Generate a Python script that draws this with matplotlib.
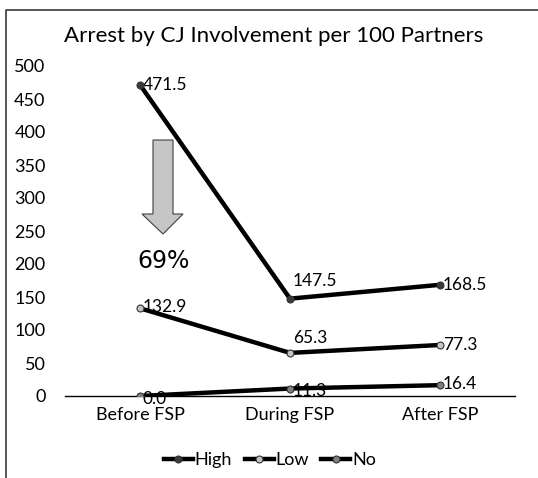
import matplotlib
matplotlib.use("Agg")
import matplotlib.pyplot as plt
from matplotlib.lines import Line2D
from matplotlib.patches import Polygon

plt.rcParams["font.family"] = ["Lato", "DejaVu Sans"]

# chart data
periods = ["Before FSP", "During FSP", "After FSP"]
series_names = ["High", "Low", "No"]
high = [471.5, 147.5, 168.5]
low = [132.9, 65.3, 77.3]
no = [0.0, 11.3, 16.4]
yticks = [0, 50, 100, 150, 200, 250, 300, 350, 400, 450, 500]

marker_colors = ["#3a3a3a", "#c4c4c4", "#7f7f7f"]
# vertical nudge (points) of each value label, per series
label_dy = [[0, 13, 0], [1, 11, 0], [-2, -2, 1]]

fig = plt.figure(figsize=(5.38, 4.78), dpi=100)
ax = fig.add_axes([65 / 538, 1 - 396 / 478, 450 / 538, 330 / 478])

x = list(range(len(periods)))
for vals, name, mc, dys in zip([high, low, no], series_names, marker_colors, label_dy):
    ax.plot(x, vals, color="black", lw=3.2, marker="o", ms=5,
            mfc=mc, mec="#333333", mew=0.8, label=name, solid_capstyle="round",
            zorder=3)
    for xi, v, dy in zip(x, vals, dys):
        ax.annotate(f"{v:.1f}", (xi, v), xytext=(2, dy), textcoords="offset points",
                    ha="left", va="center", fontsize=12.5, zorder=2)

ax.set_xlim(-0.5, 2.5)
ax.set_ylim(0, 500)
ax.set_yticks(yticks)
ax.set_xticks(x)
ax.set_xticklabels(periods)
ax.tick_params(axis="both", length=0, labelsize=13)
ax.tick_params(axis="y", pad=14)
ax.tick_params(axis="x", pad=8)
for side in ["top", "right", "left"]:
    ax.spines[side].set_visible(False)
ax.spines["bottom"].set_linewidth(1.0)
ax.set_facecolor("none")

fig.text(274 / 538, 1 - 36 / 478, "Arrest by CJ Involvement per 100 Partners",
         ha="center", va="center", fontsize=16)

# grey down arrow with the drop percentage
arrow_px = [(153, 140), (173, 140), (173, 214), (183, 214), (163, 234),
            (142, 214), (153, 214)]
arrow = Polygon([(px / 538, 1 - py / 478) for px, py in arrow_px], closed=True,
                transform=fig.transFigure, facecolor="#c6c6c6",
                edgecolor="#404040", lw=0.8)
fig.patches.append(arrow)
fig.text(164 / 538, 1 - 261 / 478, "69%", ha="center", va="center",
         fontsize=17, family="DejaVu Sans")

# outer frame (top and left edges)
fig.add_artist(Line2D([6 / 538, 6 / 538, 1.0], [0.0, 1 - 10 / 478, 1 - 10 / 478],
                      transform=fig.transFigure, color="#555555", lw=1.4))

handles = [Line2D([], [], color="black", lw=3.2, marker="o", ms=5, mfc=mc,
                  mec="#333333", mew=0.8) for mc in marker_colors]
fig.legend(handles, series_names, loc="center", bbox_to_anchor=(270 / 538, 1 - 460 / 478),
           ncol=3, frameon=False, fontsize=13, handlelength=1.6, handletextpad=0.1,
           columnspacing=0.7)

fig.savefig("out.png", dpi=100)
